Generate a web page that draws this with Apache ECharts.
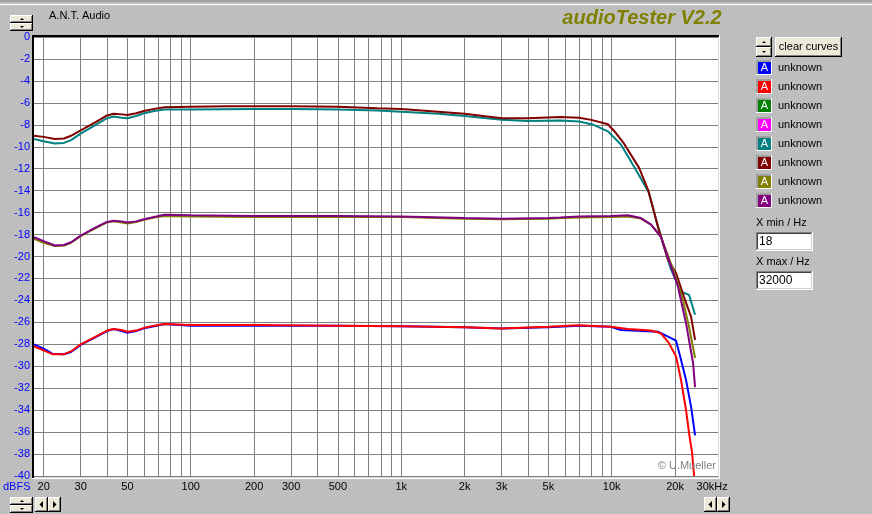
<!DOCTYPE html>
<html><head><meta charset="utf-8">
<script src="https://cdn.jsdelivr.net/npm/echarts@6/dist/echarts.min.js"></script>
<style>html,body{margin:0;padding:0;background:#c0c0c0}#c{width:872px;height:514px}</style>
</head><body><div id="c"></div><script>
// ---------- data ----------
const gridFreqs = [20,30,40,50,60,70,80,90,100,200,300,400,500,600,700,800,900,1000,2000,3000,4000,5000,6000,7000,8000,9000,10000,20000];
const labelFreqs = [20,30,50,100,200,300,500,1000,2000,3000,5000,10000,20000,30000];
const labelTexts = ['20','30','50','100','200','300','500','1k','2k','3k','5k','10k','20k','30kHz'];
const seriesNames = ['unknown','unknown','unknown','unknown','unknown','unknown','unknown','unknown'];
const seriesColors = ['#0000ff','#ff0000','#008000','#ff00ff','#008080','#800000','#808000','#800080'];

const blueFreq = [18,20,22,25,27,30,35,40,43,47,50,55,60,67,75,100,200,500,1000,2000,3000,5000,7000,9900,11060,16600,18520,20220,21350,22560,23840,24900];
const blueDb   = [-28.0,-28.4,-28.85,-28.9,-28.7,-28.05,-27.4,-26.8,-26.6,-26.8,-26.95,-26.8,-26.55,-26.35,-26.15,-26.3,-26.3,-26.3,-26.35,-26.45,-26.55,-26.45,-26.3,-26.4,-26.7,-26.85,-27.3,-27.67,-29.4,-31.25,-33.7,-36.3];

const redFreq = [18,20,22,25,27,30,35,40,43,47,50,55,60,67,75,100,200,500,1000,2000,3000,5000,6900,9900,11940,15380,17140,18720,20220,21350,22560,23310,24100,24640];
const redDb   = [-28.2,-28.55,-28.9,-28.9,-28.65,-28.0,-27.35,-26.75,-26.6,-26.7,-26.85,-26.75,-26.5,-26.3,-26.15,-26.25,-26.25,-26.3,-26.35,-26.45,-26.55,-26.4,-26.27,-26.4,-26.6,-26.75,-27.0,-27.9,-29.1,-31.25,-34.0,-36.1,-37.9,-40.0];

const greenFreq = [];
const greenDb = [];
const magentaFreq = [];
const magentaDb = [];

const tealFreq = [18,20,22.6,25,27,30,35,40,43,47,50,55,60,67,75,100,200,300,500,770,1000,1500,2000,3000,4000,5700,7000,8200,9600,11060,12760,15040,16600,19140,21350,23310,24900];
const tealDb   = [-9.3,-9.5,-9.7,-9.65,-9.4,-8.8,-8.05,-7.4,-7.25,-7.35,-7.4,-7.2,-6.95,-6.75,-6.6,-6.6,-6.55,-6.55,-6.6,-6.7,-6.8,-7.0,-7.2,-7.55,-7.65,-7.6,-7.7,-8.0,-8.6,-9.8,-11.8,-14.2,-17.3,-21.2,-23.2,-23.5,-25.3];

const maroonFreq = [18,20,22.6,25,27,30,35,40,43,47,50,55,60,67,75,100,150,200,300,500,770,1000,1500,2000,3000,4000,5700,7000,8000,9600,10470,11430,13480,14870,16600,18520,20220,22070,23840,24900];
const maroonDb   = [-9.0,-9.1,-9.3,-9.25,-9.0,-8.5,-7.8,-7.15,-7.0,-7.05,-7.1,-6.95,-6.75,-6.55,-6.4,-6.35,-6.3,-6.3,-6.3,-6.35,-6.5,-6.55,-6.8,-7.0,-7.4,-7.4,-7.3,-7.35,-7.55,-7.95,-8.75,-9.7,-11.9,-13.9,-17.3,-20.3,-21.5,-23.7,-25.5,-27.6];

const oliveFreq = [18,20,22.6,25,27,30,35,40,43,47,50,55,60,67,75,100,200,300,500,1000,2000,3000,5000,5700,7000,9900,11940,13770,15380,17140,19780,21830,23310,24900];
const oliveDb   = [-18.4,-18.75,-19.05,-19.0,-18.75,-18.15,-17.45,-16.9,-16.8,-16.9,-17.0,-16.85,-16.65,-16.45,-16.3,-16.35,-16.4,-16.4,-16.4,-16.4,-16.55,-16.6,-16.55,-16.5,-16.45,-16.4,-16.35,-16.55,-17.1,-18.2,-21.4,-24.0,-26.4,-29.25];

const purpleFreq = [18,20,22.6,25,27,30,35,40,43,47,50,55,60,67,75,100,200,300,500,1000,2000,3000,5000,5700,7000,9900,11940,13770,15380,17140,19140,20660,22560,24360,24900];
const purpleDb   = [-18.25,-18.6,-19.0,-18.95,-18.7,-18.1,-17.4,-16.85,-16.75,-16.8,-16.9,-16.8,-16.6,-16.4,-16.2,-16.25,-16.3,-16.3,-16.3,-16.35,-16.5,-16.55,-16.5,-16.45,-16.35,-16.3,-16.25,-16.5,-17.1,-18.2,-20.9,-22.75,-26.1,-29.7,-31.9];

const allFreq = [blueFreq, redFreq, greenFreq, magentaFreq, tealFreq, maroonFreq, oliveFreq, purpleFreq];
const allDb = [blueDb, redDb, greenDb, magentaDb, tealDb, maroonDb, oliveDb, purpleDb];

// ---------- chart ----------
const FONT = '"Liberation Sans", Arial, sans-serif';
const pc = document.createElement('canvas'); pc.width = 4; pc.height = 4;
const pg = pc.getContext('2d');
pg.fillStyle = '#c0c0c0'; pg.fillRect(0,0,4,4);
pg.fillStyle = '#b2b2b2'; pg.fillRect(0,0,1,1); pg.fillRect(2,2,1,1);

function rect(x,y,w,h,fill,z){ return {type:'rect', shape:{x:x,y:y,width:w,height:h}, style:{fill:fill}, z:z||100, silent:true}; }
function line(x1,y1,x2,y2,stroke,w,z){ return {type:'line', shape:{x1:x1,y1:y1,x2:x2,y2:y2}, style:{stroke:stroke, lineWidth:w||1}, z:z||100, silent:true}; }
function text(x,y,str,opts){ return {type:'text', x:x, y:y, z:110, silent:true, style:Object.assign({text:str, font:'11px '+FONT, fill:'#000', align:'left', verticalAlign:'middle', textAlign:'left', textVerticalAlign:'middle'}, opts||{})}; }
function tri(points){ return {type:'polygon', shape:{points:points}, style:{fill:'#000'}, z:110, silent:true}; }
function button(x,y,w,h){
  return [
    rect(x,y,w,h,'#000000'),
    rect(x,y,w-1,h-1,'#ffffff'),
    rect(x+1,y+1,w-2,h-2,'#808080'),
    rect(x+1,y+1,w-3,h-3,'#ece9d8')
  ];
}
function sunken(x,y,w,h,fill){
  return [
    rect(x,y,w,h,'#ffffff'),
    rect(x,y,w-1,h-1,'#808080'),
    rect(x+1,y+1,w-2,h-2,'#d4d0c8'),
    rect(x+1,y+1,w-3,h-3,'#404040'),
    rect(x+2,y+2,w-4,h-4,fill)
  ];
}

const gfx = [];
// top strip
gfx.push(rect(0,0,872,2,'#a0a0a0'));
gfx.push(line(0,4.5,872,4.5,'#ffffff',1));
// plot frame
gfx.push(rect(32,35,2,443,'#000000'));
gfx.push(rect(32,35,687,2,'#000000'));
gfx.push(line(718.5,37,718.5,478,'#d8d8d8',1));
gfx.push(line(719.5,35,719.5,479,'#ffffff',1));
gfx.push(line(34,477.5,719,477.5,'#d8d8d8',1));
gfx.push(line(32,478.5,720,478.5,'#ffffff',1));
// titles
gfx.push(text(49,16,'A.N.T. Audio'));
gfx.push(text(642,18,'audioTester V2.2',{font:'italic bold 20px '+FONT, fill:'#808000', align:'center', textAlign:'center'}));
gfx.push(text(716,466,'\u00a9 U.Mueller',{fill:'#808080', align:'right', textAlign:'right'}));
gfx.push(text(3,487,'dBFS',{fill:'#0000ff'}));
// top-left spinner
gfx.push.apply(gfx, button(10,15,23,8));
gfx.push.apply(gfx, button(10,23,23,8));
gfx.push(tri([[20,20],[22,18],[24,20]]));
gfx.push(tri([[20,26],[22,28],[24,26]]));
// bottom-left spinner + arrows
gfx.push.apply(gfx, button(10,497,23,8));
gfx.push.apply(gfx, button(10,505,23,8));
gfx.push(tri([[20,502],[22,500],[24,502]]));
gfx.push(tri([[20,508],[22,510],[24,508]]));
gfx.push.apply(gfx, button(35,497,13,15));
gfx.push.apply(gfx, button(48,497,13,15));
gfx.push(tri([[43,501],[43,508],[39.5,504.5]]));
gfx.push(tri([[53,501],[53,508],[56.5,504.5]]));
// bottom-right arrows
gfx.push.apply(gfx, button(704,497,13,15));
gfx.push.apply(gfx, button(717,497,13,15));
gfx.push(tri([[712,501],[712,508],[708.5,504.5]]));
gfx.push(tri([[722,501],[722,508],[725.5,504.5]]));
// right spinner + clear button
gfx.push.apply(gfx, button(756,37,16,10));
gfx.push.apply(gfx, button(756,47,16,10));
gfx.push(tri([[762,43],[764,41],[766,43]]));
gfx.push(tri([[762,51],[764,53],[766,51]]));
gfx.push.apply(gfx, button(775,37,67,20));
gfx.push(text(808.5,47,'clear curves',{align:'center', textAlign:'center'}));
// legend
for (let i = 0; i < seriesColors.length; i++) {
  const y = 60 + 19*i;
  gfx.push(rect(756,y,16,15,'#ffffff'));
  gfx.push(rect(756,y,15,14,'#a0a0a0'));
  gfx.push(rect(758,y+2,13,12,seriesColors[i]));
  gfx.push(text(764.5,y+8,'A',{fill:'#ffffff', font:'11px '+FONT, align:'center', textAlign:'center'}));
  gfx.push(text(778,y+7.5,seriesNames[i]));
}
// X min / X max
gfx.push(text(756,223,'X min / Hz'));
gfx.push.apply(gfx, sunken(756,232,57,19,'#ffffff'));
gfx.push(text(759,241.5,'18',{font:'12px '+FONT}));
gfx.push(text(756,262,'X max / Hz'));
gfx.push.apply(gfx, sunken(756,271,57,19,'#ffffff'));
gfx.push(text(759,280.5,'32000',{font:'12px '+FONT}));

const series = seriesColors.map(function(c, i){
  return {
    name: 'S' + i,
    type: 'line',
    data: allFreq[i].map(function(f, k){ return [f, allDb[i][k]]; }),
    showSymbol: false,
    symbol: 'none',
    smooth: false,
    clip: true,
    lineStyle: {color: c, width: 2},
    itemStyle: {color: c},
    animation: false,
    z: 3 + i
  };
});

const chart = echarts.init(document.getElementById('c'), null, {renderer: 'canvas'});
chart.setOption({
  animation: false,
  backgroundColor: {image: pc, repeat: 'repeat'},
  grid: {left: 34, right: 154, top: 37, bottom: 38, show: true, backgroundColor: '#ffffff', borderWidth: 0, containLabel: false},
  xAxis: {
    type: 'log', logBase: 10, min: 18, max: 32000,
    axisLine: {show: false},
    axisTick: {show: false, customValues: gridFreqs},
    axisLabel: {
      customValues: labelFreqs, color: '#000', fontSize: 11, fontFamily: FONT, margin: 5,
      formatter: function(v){ const k = labelFreqs.indexOf(Math.round(v)); return k >= 0 ? labelTexts[k] : ''; }
    },
    splitLine: {show: true, lineStyle: {color: '#808080', width: 1}}
  },
  yAxis: {
    type: 'value', min: -40, max: 0, interval: 2,
    axisLine: {show: false}, axisTick: {show: false},
    axisLabel: {color: '#0000ff', fontSize: 11, fontFamily: FONT, margin: 4},
    splitLine: {show: true, lineStyle: {color: '#808080', width: 1}}
  },
  series: series,
  graphic: {elements: gfx}
});
</script></body></html>
